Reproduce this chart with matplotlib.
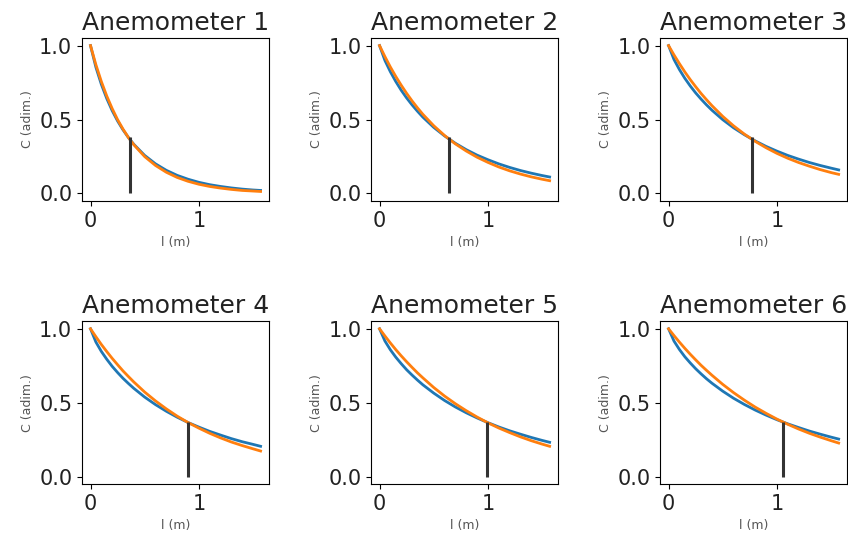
import matplotlib
matplotlib.use("Agg")
import matplotlib.pyplot as plt

# lags (m)
lags = [0, 0.05, 0.1, 0.15, 0.2, 0.25, 0.3, 0.35, 0.4, 0.5, 0.6, 0.7,
        0.8, 0.9, 1.0, 1.1, 1.2, 1.3, 1.4, 1.5, 1.57]

titles = ["Anemometer 1", "Anemometer 2", "Anemometer 3",
          "Anemometer 4", "Anemometer 5", "Anemometer 6"]

# correlation length marked by the vertical line (m)
corr_length = [0.36, 0.64, 0.767, 0.896, 0.99, 1.06]
line_top = [0.38, 0.38, 0.38, 0.37, 0.37, 0.37]

# measured correlation (blue)
measured = [
    [1.0, 0.853, 0.738, 0.642, 0.560, 0.490, 0.430, 0.378, 0.332, 0.257,
     0.200, 0.156, 0.122, 0.096, 0.075, 0.059, 0.047, 0.037, 0.029, 0.023,
     0.020],
    [1.0, 0.899, 0.823, 0.757, 0.698, 0.646, 0.599, 0.556, 0.516, 0.447,
     0.389, 0.339, 0.296, 0.259, 0.228, 0.200, 0.176, 0.155, 0.137, 0.121,
     0.111],
    [1.0, 0.906, 0.838, 0.779, 0.727, 0.680, 0.638, 0.599, 0.563, 0.499,
     0.444, 0.397, 0.355, 0.318, 0.286, 0.257, 0.232, 0.209, 0.189, 0.171,
     0.159],
    [1.0, 0.910, 0.847, 0.794, 0.746, 0.704, 0.665, 0.630, 0.597, 0.538,
     0.487, 0.442, 0.402, 0.366, 0.335, 0.306, 0.281, 0.257, 0.236, 0.218,
     0.205],
    [1.0, 0.917, 0.858, 0.808, 0.764, 0.723, 0.687, 0.653, 0.621, 0.565,
     0.515, 0.471, 0.432, 0.397, 0.365, 0.336, 0.310, 0.287, 0.265, 0.245,
     0.232],
    [1.0, 0.917, 0.860, 0.811, 0.769, 0.730, 0.695, 0.662, 0.632, 0.578,
     0.530, 0.488, 0.450, 0.416, 0.385, 0.357, 0.332, 0.308, 0.287, 0.267,
     0.254],
]

# exponential fit (orange)
fitted = [
    [1.0, 0.870, 0.757, 0.659, 0.574, 0.499, 0.435, 0.378, 0.329, 0.249,
     0.189, 0.143, 0.108, 0.082, 0.062, 0.047, 0.036, 0.027, 0.020, 0.016,
     0.013],
    [1.0, 0.925, 0.855, 0.791, 0.732, 0.677, 0.626, 0.579, 0.535, 0.458,
     0.392, 0.335, 0.287, 0.245, 0.210, 0.179, 0.153, 0.131, 0.112, 0.096,
     0.086],
    [1.0, 0.937, 0.878, 0.822, 0.770, 0.722, 0.676, 0.634, 0.594, 0.521,
     0.457, 0.401, 0.352, 0.309, 0.271, 0.238, 0.209, 0.184, 0.161, 0.141,
     0.129],
    [1.0, 0.946, 0.894, 0.846, 0.800, 0.757, 0.715, 0.677, 0.640, 0.572,
     0.512, 0.458, 0.409, 0.366, 0.328, 0.293, 0.262, 0.234, 0.210, 0.188,
     0.173],
    [1.0, 0.951, 0.904, 0.859, 0.817, 0.777, 0.739, 0.702, 0.668, 0.603,
     0.545, 0.493, 0.446, 0.403, 0.364, 0.329, 0.298, 0.269, 0.243, 0.220,
     0.205],
    [1.0, 0.954, 0.910, 0.868, 0.828, 0.790, 0.753, 0.719, 0.686, 0.624,
     0.568, 0.517, 0.470, 0.428, 0.389, 0.354, 0.322, 0.293, 0.267, 0.243,
     0.227],
]

fig, axes = plt.subplots(2, 3, figsize=(8.48, 5.46), dpi=100)
fig.subplots_adjust(left=0.0967, right=0.999, top=0.930, bottom=0.1136,
                    wspace=0.545, hspace=0.742)

for i, ax in enumerate(axes.flat):
    ax.plot(lags, measured[i], color="#1f77b4", lw=2)
    ax.plot(lags, fitted[i], color="#ff7f0e", lw=2)
    ax.vlines(corr_length[i], 0, line_top[i], color="#333333", lw=2.2)
    ax.set_title(titles[i], fontsize=18, color="#222222")
    ax.set_xlabel("l (m)", fontsize=9, color="#555555")
    ax.set_ylabel("C (adim.)", fontsize=9, color="#555555")
    ax.tick_params(labelsize=15, labelcolor="#222222")

fig.savefig("out.png", dpi=100)
